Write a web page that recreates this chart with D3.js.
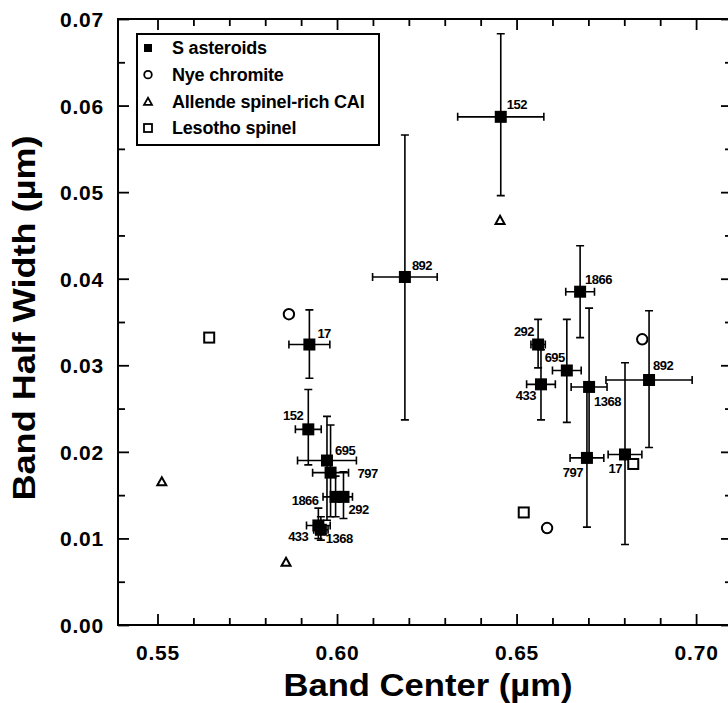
<!DOCTYPE html>
<html>
<head>
<meta charset="utf-8">
<script src="https://cdn.jsdelivr.net/npm/d3@7"></script>
<style>
  body { margin: 0; background: #fff; }
  svg { display: block; }
  text { font-family: "Liberation Sans", Arial, sans-serif; font-weight: bold; fill: #000; }
</style>
</head>
<body>
<div id="chart"></div>
<script>
// S asteroids: band center, band half width, errors
var astNames = ['17', '152', '695', '797', '1866', '292', '433', '1368', '892',
                '152', '1866', '292', '695', '433', '1368', '797', '17', '892'];
var astX    = [0.5923, 0.5920, 0.5972, 0.5982, 0.5996, 0.6018, 0.5948, 0.5955, 0.6189,
               0.6456, 0.6677, 0.6560, 0.6640, 0.6568, 0.6702, 0.6696, 0.6802, 0.6869];
var astY    = [0.0324, 0.0226, 0.0190, 0.0176, 0.0148, 0.0148, 0.0115, 0.0110, 0.0402,
               0.0587, 0.0385, 0.0324, 0.0294, 0.0278, 0.0275, 0.0193, 0.0197, 0.0283];
var astXErr = [0.0057, 0.0036, 0.0082, 0.0050, 0.0035, 0.0025, 0.0033, 0.0020, 0.0090,
               0.0120, 0.0040, 0.0020, 0.0040, 0.0040, 0.0050, 0.0047, 0.0047, 0.0120];
var astYLow = [0.0285, 0.0185, 0.0121, 0.0125, 0.0125, 0.0123, 0.0100, 0.0098, 0.0237,
               0.0496, 0.0332, 0.0297, 0.0234, 0.0237, 0.0195, 0.0113, 0.0093, 0.0205];
var astYHigh= [0.0364, 0.0272, 0.0241, 0.0231, 0.0172, 0.0177, 0.0135, 0.0125, 0.0566,
               0.0683, 0.0438, 0.0353, 0.0353, 0.0318, 0.0366, 0.0275, 0.0303, 0.0363];

// lab samples
var nyeX = [0.5866, 0.6850, 0.6585];
var nyeY = [0.0359, 0.0330, 0.0112];
var allendeX = [0.5512, 0.5858, 0.6454];
var allendeY = [0.0166, 0.0073, 0.0468];
var lesothoX = [0.5644, 0.6825, 0.6520];
var lesothoY = [0.0332, 0.0186, 0.0130];

var legendLabels = ['S asteroids', 'Nye chromite', 'Allende spinel-rich CAI', 'Lesotho spinel'];
var xTickLabels = ['0.55', '0.60', '0.65', '0.70'];
var yTickLabels = ['0.00', '0.01', '0.02', '0.03', '0.04', '0.05', '0.06', '0.07'];

// label placement next to each asteroid square: [dx, dy, anchor]
var labelOffsets = [
  [8, -7, 'start'], [-5, -9, 'end'], [8, -6, 'start'], [27, 5, 'start'], [-17, 8, 'end'],
  [5, 17, 'start'], [-10, 16, 'end'], [5, 13, 'start'], [7, -7, 'start'],
  [6, -8, 'start'], [5, -8, 'start'], [-4, -9, 'end'], [-2, -8, 'end'], [-5, 16, 'end'],
  [5, 19, 'start'], [-4, 19, 'end'], [-3, 19, 'end'], [4, -10, 'start']
];

var width = 728, height = 703;
// plot box in pixels (note: "top" is taken by window.top)
var pL = 118, pR = 732, pT = 19, pB = 625;

var svg = d3.select('#chart').append('svg')
  .attr('width', width).attr('height', height);

var x = d3.scaleLinear().domain([0.539, 0.71]).range([pL, pR]);
var y = d3.scaleLinear().domain([0, 0.07]).range([pB, pT]);

// frame
svg.append('rect')
  .attr('x', pL).attr('y', pT)
  .attr('width', pR - pL).attr('height', pB - pT)
  .attr('fill', 'none').attr('stroke', '#000').attr('stroke-width', 2);

var xMajor = xTickLabels.map(Number);
var xMinor = d3.range(55, 71).map(function(d) { return d / 100; })
  .filter(function(d) { return xMajor.indexOf(d) < 0; });
var yMajor = yTickLabels.map(Number);
var yMinor = d3.range(0, 7).map(function(d) { return d / 100 + 0.005; });

function tickAxis(axis, vals, size, tx, ty, fmt) {
  var g = svg.append('g').attr('transform', 'translate(' + tx + ',' + ty + ')')
    .call(axis.tickValues(vals).tickSize(size).tickSizeOuter(0).tickFormat(fmt || ''));
  g.select('.domain').remove();
  g.selectAll('.tick line').attr('stroke', '#000').attr('stroke-width', 1.8);
  return g;
}

// inward ticks on all four sides
var gx = tickAxis(d3.axisBottom(x), xMajor, -11, 0, pB, function(d, i) { return xTickLabels[i]; });
tickAxis(d3.axisBottom(x), xMinor, -7, 0, pB);
tickAxis(d3.axisTop(x), xMajor, -11, 0, pT);
tickAxis(d3.axisTop(x), xMinor, -7, 0, pT);
var gy = tickAxis(d3.axisLeft(y), yMajor, -11, pL, 0, function(d, i) { return yTickLabels[i]; });
tickAxis(d3.axisLeft(y), yMinor, -7, pL, 0);
tickAxis(d3.axisRight(y), yMajor, -11, pR, 0);
tickAxis(d3.axisRight(y), yMinor, -7, pR, 0);

gx.selectAll('.tick text')
  .attr('y', 0).attr('dy', 0)
  .attr('transform', 'translate(0,35)')
  .style('font-size', '21px').style('letter-spacing', '0.8px')
  .style('font-family', '"Liberation Sans", Arial, sans-serif').style('font-weight', 'bold');
gy.selectAll('.tick text')
  .attr('x', -14).attr('dy', '0.36em')
  .style('font-size', '21px').style('letter-spacing', '0.8px')
  .style('font-family', '"Liberation Sans", Arial, sans-serif').style('font-weight', 'bold');

// axis titles
svg.append('text')
  .attr('x', 428).attr('y', 696)
  .attr('text-anchor', 'middle')
  .attr('textLength', 289).attr('lengthAdjust', 'spacingAndGlyphs')
  .style('font-size', '32px')
  .text('Band Center (\u00b5m)');

svg.append('text')
  .attr('transform', 'translate(35,318) rotate(-90)')
  .attr('text-anchor', 'middle')
  .attr('textLength', 365).attr('lengthAdjust', 'spacingAndGlyphs')
  .style('font-size', '32px')
  .text('Band Half Width (\u00b5m)');

// error bars
var cap = 4;
var bars = svg.append('g').attr('stroke', '#000').attr('stroke-width', 1.6).attr('fill', 'none');
astX.forEach(function(v, i) {
  var cx = x(v), cy = y(astY[i]);
  var x0 = x(v - astXErr[i]), x1 = x(v + astXErr[i]);
  var y0 = y(astYLow[i]), y1 = y(astYHigh[i]);
  bars.append('path').attr('d',
    'M' + x0 + ',' + cy + 'H' + x1 +
    'M' + x0 + ',' + (cy - cap) + 'V' + (cy + cap) +
    'M' + x1 + ',' + (cy - cap) + 'V' + (cy + cap) +
    'M' + cx + ',' + y0 + 'V' + y1 +
    'M' + (cx - cap) + ',' + y0 + 'H' + (cx + cap) +
    'M' + (cx - cap) + ',' + y1 + 'H' + (cx + cap));
});

// asteroid squares
var sq = 12;
svg.append('g').selectAll('rect.ast')
  .data(astX).enter().append('rect')
  .attr('x', function(d) { return x(d) - sq / 2; })
  .attr('y', function(d, i) { return y(astY[i]) - sq / 2; })
  .attr('width', sq).attr('height', sq)
  .attr('fill', '#000');

// asteroid labels
svg.append('g').selectAll('text')
  .data(astNames).enter().append('text')
  .attr('x', function(d, i) { return x(astX[i]) + labelOffsets[i][0]; })
  .attr('y', function(d, i) { return y(astY[i]) + labelOffsets[i][1]; })
  .attr('text-anchor', function(d, i) { return labelOffsets[i][2]; })
  .style('font-size', '13px').style('letter-spacing', '-0.5px')
  .text(function(d) { return d; });

// lab sample symbols
function triPath(cx, cy, s) {
  var h = s * 0.9;
  return 'M' + cx + ',' + (cy - h / 2) + 'L' + (cx + s / 2) + ',' + (cy + h / 2) +
    'L' + (cx - s / 2) + ',' + (cy + h / 2) + 'Z';
}

var open = svg.append('g').attr('fill', '#fff').attr('stroke', '#000').attr('stroke-width', 2);
nyeX.forEach(function(v, i) {
  open.append('circle').attr('cx', x(v)).attr('cy', y(nyeY[i])).attr('r', 5.2);
});
allendeX.forEach(function(v, i) {
  open.append('path').attr('d', triPath(x(v), y(allendeY[i]), 9));
});
lesothoX.forEach(function(v, i) {
  open.append('rect')
    .attr('x', x(v) - 5).attr('y', y(lesothoY[i]) - 5)
    .attr('width', 10).attr('height', 10);
});

// legend
var lg = svg.append('g');
lg.append('rect')
  .attr('x', 137).attr('y', 34).attr('width', 242).attr('height', 111)
  .attr('fill', '#fff').attr('stroke', '#000').attr('stroke-width', 2);
var rowY = d3.scalePoint().domain(legendLabels).range([48, 128]);
legendLabels.forEach(function(name, i) {
  var cy = rowY(name), cx = 148;
  if (i === 0) {
    lg.append('rect').attr('x', cx - 4).attr('y', cy - 4).attr('width', 8).attr('height', 8).attr('fill', '#000');
  } else if (i === 1) {
    lg.append('circle').attr('cx', cx).attr('cy', cy).attr('r', 3.8)
      .attr('fill', 'none').attr('stroke', '#000').attr('stroke-width', 1.8);
  } else if (i === 2) {
    lg.append('path').attr('d', triPath(cx, cy, 8))
      .attr('fill', 'none').attr('stroke', '#000').attr('stroke-width', 1.8);
  } else {
    lg.append('rect').attr('x', cx - 4).attr('y', cy - 4).attr('width', 8).attr('height', 8)
      .attr('fill', 'none').attr('stroke', '#000').attr('stroke-width', 1.8);
  }
  lg.append('text')
    .attr('x', 172).attr('y', cy).attr('dy', '0.36em')
    .style('font-size', '18px').style('letter-spacing', '-0.2px')
    .text(name);
});
</script>
</body>
</html>
